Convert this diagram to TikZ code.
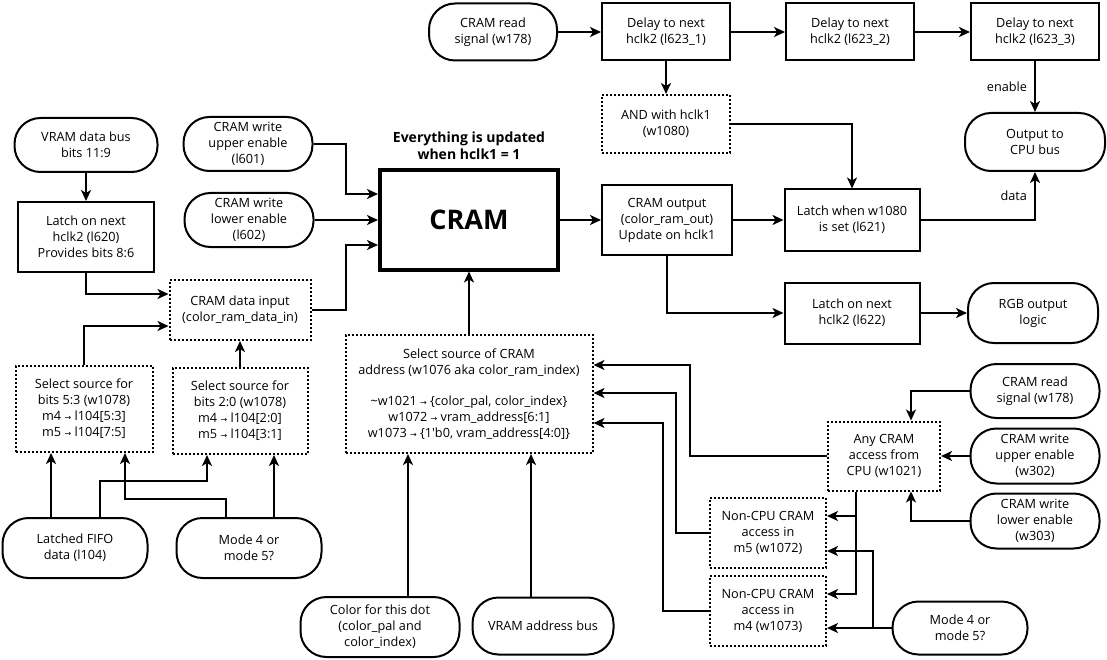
\documentclass[tikz,border=0pt]{standalone}
\usepackage{fontspec}
\setmainfont{Open Sans}
\newfontfamily\arrowfont{DejaVu Sans}
\newcommand{\rarr}{{\arrowfont\footnotesize\char"2192}}
\usetikzlibrary{arrows.meta}

\begin{document}
\begin{tikzpicture}[x=1pt, y=-1pt,
  every node/.style={font=\fontsize{12.7}{16}\selectfont, align=center, inner sep=2pt},
  box/.style={draw, line width=2pt, minimum height=58},
  dotbox/.style={draw, line width=2pt, dash pattern=on 2pt off 2pt},
  stadium/.style={draw, line width=2pt, rounded corners=26pt},
  wire/.style={line width=2pt, -{Stealth[length=11pt, width=10pt, inset=3pt]}}]
\useasboundingbox (0,0) rectangle (1107,660);

% read path, top row
\node[stadium, minimum width=128, minimum height=57] (rdtop) at (493,32) {CRAM read\\signal (w178)};
\foreach \i/\x in {1/666, 2/850, 3/1035}
  \node[box, minimum width=128, minimum height=57] (dly\i) at (\x,32) {Delay to next\\hclk2 (l623\_\i)};
\node[dotbox, minimum width=128, minimum height=58] (andclk) at (666,124) {AND with hclk1\\(w1080)};
\node[stadium, minimum width=140, minimum height=58] (cpuout) at (1035,142) {Output to\\CPU bus};

% the RAM itself
\node[font=\fontsize{14}{17}\selectfont\bfseries] (title) at (469,146) {Everything is updated\\when hclk1 = 1};
\node[draw, line width=4pt, minimum width=178, minimum height=99, font=\fontsize{27}{32}\selectfont\bfseries] (cram) at (469,220) {CRAM};
\node[box, minimum width=130, minimum height=70] (cramout) at (667,220) {CRAM output\\(color\_ram\_out)\\Update on hclk1};
\node[box, minimum width=135, minimum height=61] (latw) at (852,220) {Latch when w1080\\is set (l621)};
\node[box, minimum width=135, minimum height=61] (latrgb) at (852,313) {Latch on next\\hclk2 (l622)};
\node[stadium, minimum width=130, minimum height=60] (rgbout) at (1033,313) {RGB output\\logic};

% data input side
\node[stadium, minimum width=143, minimum height=54] (vdbus) at (86,145) {VRAM data bus\\bits 11:9};
\node[box, minimum width=136, minimum height=70] (lat620) at (86,237) {Latch on next\\hclk2 (l620)\\Provides bits 8:6};
\node[stadium, minimum width=129, minimum height=54] (wrup) at (248,144) {CRAM write\\upper enable\\(l601)};
\node[stadium, minimum width=129, minimum height=54] (wrlo) at (249,220) {CRAM write\\lower enable\\(l602)};
\node[dotbox, minimum width=141, minimum height=60] (dinput) at (240,310) {CRAM data input\\(color\_ram\_data\_in)};
\node[dotbox, minimum width=137, minimum height=86] (sel53) at (84,409) {Select source for\\bits 5:3 (w1078)\\m4 \rarr\ l104[5:3]\\m5 \rarr\ l104[7:5]};
\node[dotbox, minimum width=135, minimum height=86] (sel20) at (240,411) {Select source for\\bits 2:0 (w1078)\\m4 \rarr\ l104[2:0]\\m5 \rarr\ l104[3:1]};
\node[stadium, minimum width=145, minimum height=60] (fifo) at (75,548) {Latched FIFO\\data (l104)};
\node[stadium, minimum width=145, minimum height=60] (modeL) at (249,548) {Mode 4 or\\mode 5?};

% address side
\node[dotbox, minimum width=247, minimum height=118] (seladdr) at (469,394) {Select source of CRAM\\address (w1076 aka color\_ram\_index)\\[15pt]\textasciitilde w1021 \rarr\ \{color\_pal, color\_index\}\\w1072 \rarr\ vram\_address[6:1]\\w1073 \rarr\ \{1\textquotesingle b0, vram\_address[4:0]\}};
\node[stadium, minimum width=159, minimum height=60] (colordot) at (380,627) {Color for this dot\\(color\_pal and\\color\_index)};
\node[stadium, minimum width=141, minimum height=57] (vabus) at (543,626) {VRAM address bus};
\node[stadium, minimum width=129, minimum height=54] (rdbot) at (1035,391) {CRAM read\\signal (w178)};
\node[dotbox, minimum width=112, minimum height=69] (anycpu) at (884,456) {Any CRAM\\access from\\CPU (w1021)};
\node[stadium, minimum width=129, minimum height=55] (wrup2) at (1035,456) {CRAM write\\upper enable\\(w302)};
\node[stadium, minimum width=129, minimum height=55] (wrlo2) at (1035,521) {CRAM write\\lower enable\\(w303)};
\node[dotbox, minimum width=116, minimum height=70] (ncm5) at (768,533) {Non-CPU CRAM\\access in\\m5 (w1072)};
\node[dotbox, minimum width=116, minimum height=70] (ncm4) at (768,611) {Non-CPU CRAM\\access in\\m4 (w1073)};
\node[stadium, minimum width=135, minimum height=53] (modeR) at (960,628) {Mode 4 or\\mode 5?};

% wires, read path
\draw[wire] (rdtop) -- (dly1);
\draw[wire] (dly1) -- (dly2);
\draw[wire] (dly2) -- (dly3);
\draw[wire] (dly1) -- (andclk);
\draw[wire] (dly3.south) -- (dly3.south |- cpuout.north) node[midway, left=5pt] {enable};
\draw[wire] (andclk.east) -| (latw.north);
\draw[wire] (cram) -- (cramout);
\draw[wire] (cramout) -- (latw);
\draw[wire] (latw.east) -| (cpuout.south) node[pos=0.75, left=5pt] {data};
\draw[wire] (cramout.south) |- (latrgb.west);
\draw[wire] (latrgb) -- (rgbout);

% wires, data input
\draw[wire] (vdbus) -- (lat620);
\draw[wire] (lat620.south) |- ([yshift=16pt]dinput.west);
\draw[wire] (sel53.north) |- ([yshift=-16pt]dinput.west);
\draw[wire] (sel20) -- (dinput);
\draw[wire] (wrup.east) -| ([xshift=-32pt, yshift=26pt]cram.west) -- ([yshift=26pt]cram.west);
\draw[wire] (wrlo) -- (cram);
\draw[wire] (dinput.east) -| ([xshift=-32pt, yshift=-25pt]cram.west) -- ([yshift=-25pt]cram.west);
\draw[wire] ([xshift=-24pt]fifo.north) -- ([xshift=-24pt]fifo.north |- sel53.south);
\draw[wire] ([xshift=25pt]fifo.north) -- ++(0,-36) -| ([xshift=-33pt]sel20.south);
\draw[wire] ([xshift=-23pt]modeL.north) -- ++(0,-18) -| ([xshift=41pt]sel53.south);
\draw[wire] ([xshift=25pt]modeL.north) -- ([xshift=25pt]modeL.north |- sel20.south);

% wires, address
\draw[wire] (seladdr) -- (cram);
\draw[wire] ([xshift=28pt]colordot.north) -- ([xshift=28pt]colordot.north |- seladdr.south);
\draw[wire] ([xshift=-12pt]vabus.north) -- ([xshift=-12pt]vabus.north |- seladdr.south);
\draw[wire] (anycpu.west) -| ([xshift=96pt, yshift=29pt]seladdr.east) -- ([yshift=29pt]seladdr.east);
\draw[wire] (ncm5.west) -| ([xshift=82pt, yshift=1pt]seladdr.east) -- ([yshift=1pt]seladdr.east);
\draw[wire] (ncm4.west) -| ([xshift=69pt, yshift=-29pt]seladdr.east) -- ([yshift=-29pt]seladdr.east);
\draw[wire] (rdbot.west) -| ([xshift=27pt]anycpu.north);
\draw[wire] (wrup2) -- (anycpu);
\draw[wire] (wrlo2.west) -| ([xshift=27pt]anycpu.south);
\draw[wire] ([xshift=-28pt]anycpu.south) |- ([yshift=17pt]ncm5.east);
\draw[wire] ([xshift=-28pt]anycpu.south) |- ([yshift=17pt]ncm4.east);
\draw[wire] (modeR.west) -- ([yshift=-17pt]ncm4.east);
\draw[wire] (modeR.west) -- ++(-19,0) |- ([yshift=-18pt]ncm5.east);
\end{tikzpicture}
\end{document}
